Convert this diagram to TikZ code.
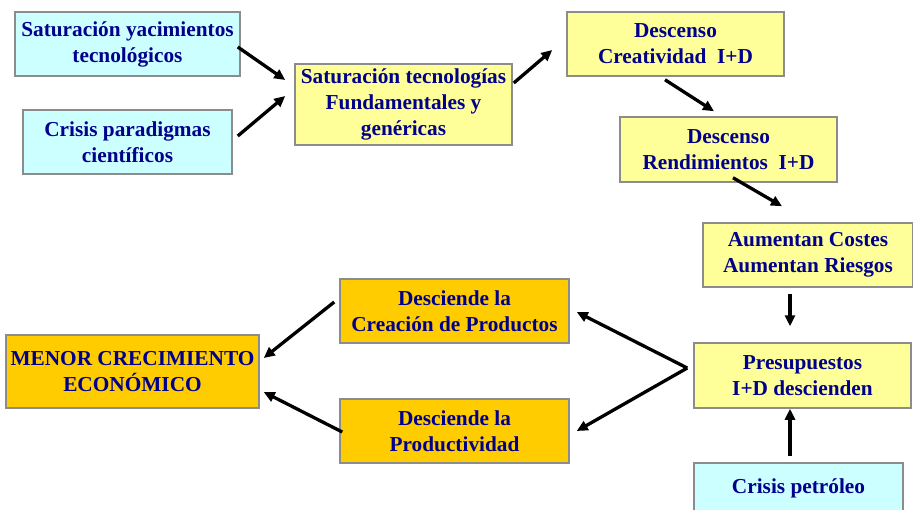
\documentclass[tikz,border=0pt]{standalone}
\usepackage{fontspec}
\setmainfont{Liberation Serif}
\usetikzlibrary{positioning,arrows.meta}

\definecolor{celeste}{RGB}{204,255,255}
\definecolor{amarillo}{RGB}{255,255,153}
\definecolor{naranja}{RGB}{255,204,0}
\definecolor{marino}{RGB}{0,0,140}
\definecolor{borde}{RGB}{140,140,140}

\begin{document}
\begin{tikzpicture}[
  x=1pt, y=-1pt,
  caja/.style={rectangle, draw=borde, line width=1.5pt, align=center,
               inner sep=1pt, text=marino,
               font=\fontsize{21.3}{26}\selectfont\bfseries},
  causa/.style={caja, fill=celeste},
  efecto/.style={caja, fill=amarillo},
  final/.style={caja, fill=naranja},
  flecha/.style={-{Triangle[length=11pt,width=10pt]}, line width=3.3pt, black}
]
\useasboundingbox (0,0) rectangle (913,509);

% ====== ARRIBA: saturacion ======
\node[causa, minimum width=225pt, minimum height=64pt] (satyac) at (127.5,44)
  {Saturación yacimientos\\tecnológicos};
\node[causa, minimum width=209pt, minimum height=64pt] (crisispar) at (127.5,142)
  {Crisis paradigmas\\científicos};
\node[efecto, minimum width=217pt, minimum height=81pt] (sattec) at (403.5,104.5)
  {Saturación tecnologías\\Fundamentales y\\genéricas};

% ====== DERECHA: cadena I+D ======
\node[efecto, minimum width=217pt, minimum height=64pt] (desccre) at (675.5,44)
  {Descenso\\Creatividad\ \ I+D};
\node[efecto, minimum width=217pt, minimum height=65pt] (descrend) at (728.5,149.5)
  {Descenso\\Rendimientos\ \ I+D};
\node[efecto, minimum width=210pt, minimum height=64pt] (aumentan) at (808,255)
  {Aumentan Costes\\Aumentan Riesgos};
\node[efecto, minimum width=217pt, minimum height=65pt] (presup) at (802.5,375.5)
  {Presupuestos\\I+D descienden};
\node[causa, minimum width=209pt, minimum height=50pt] (crisispet) at (798.5,488)
  {Crisis petróleo};

% ====== ABAJO: consecuencias ======
\node[final, minimum width=229pt, minimum height=64pt] (desccrea) at (454.5,311)
  {Desciende la\\Creación de Productos};
\node[final, minimum width=229pt, minimum height=64pt] (descprod) at (454.5,431)
  {Desciende la\\Productividad};
\node[final, minimum width=253pt, minimum height=73pt] (menor) at (132.5,371.5)
  {MENOR CRECIMIENTO\\ECONÓMICO};

% Flechas
\draw[flecha] ([shift={(-3,3)}]satyac.east) -- ([shift={(-9,-24.5)}]sattec.west);
\draw[flecha] ([shift={(5,-6)}]crisispar.east) -- ([shift={(-9,-8.5)}]sattec.west);
\draw[flecha] ([shift={(1,-21.5)}]sattec.east) -- ([shift={(-14,6)}]desccre.west);
\draw[flecha] ([shift={(-10.5,3)}]desccre.south) -- ([shift={(-14.5,-5)}]descrend.north);
\draw[flecha] ([shift={(4.5,-5)}]descrend.south) -- ([shift={(-26,-16)}]aumentan.north);
\draw[flecha] ([shift={(-18,6)}]aumentan.south) -- ([shift={(-12.5,-16)}]presup.north);
\draw[flecha] ([shift={(-8.5,-6)}]crisispet.north) -- ([shift={(-12.5,0)}]presup.south);

% Presupuestos -> dos consecuencias
\coordinate (vertice) at ([shift={(-6,-7.5)}]presup.west);
\draw[flecha] (vertice) -- ([shift={(7,1)}]desccrea.east);
\draw[flecha] (vertice) -- ([shift={(7,0)}]descprod.east);

\draw[flecha] ([shift={(-5,-9)}]desccrea.west) -- ([shift={(4,-13.5)}]menor.east);
\draw[flecha] ([shift={(3,1)}]descprod.west) -- ([shift={(4,20.5)}]menor.east);

\end{tikzpicture}
\end{document}
